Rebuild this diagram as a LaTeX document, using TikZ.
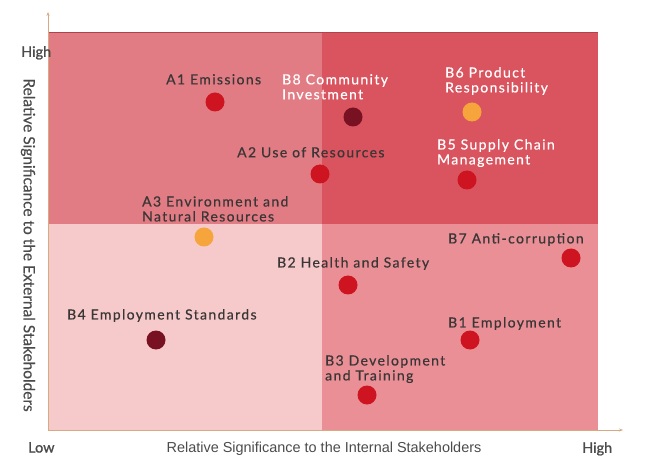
\documentclass[tikz,border=0pt]{standalone}
\usepackage{fontspec}
\setmainfont{Lato}
\newfontfamily\axisfont{Liberation Sans}
\usetikzlibrary{arrows.meta}
\newlength{\du}
\setlength{\du}{1bp}
\definecolor{quadlowlow}{RGB}{246,201,203}
\definecolor{quadlowhigh}{RGB}{226,124,132}
\definecolor{quadhighlow}{RGB}{234,143,150}
\definecolor{quadhighhigh}{RGB}{217,84,95}
\definecolor{dotred}{RGB}{205,20,32}
\definecolor{dotdark}{RGB}{120,18,34}
\definecolor{dotorange}{RGB}{246,165,60}
\definecolor{labelgray}{RGB}{58,54,54}
\definecolor{axisgray}{RGB}{75,75,75}
\definecolor{axisline}{RGB}{215,170,130}
\tikzset{
  dot/.style={circle, inner sep=0pt, minimum size=19\du},
  lbl/.style={anchor=north west, inner sep=0pt, align=left, text=labelgray,
    font=\fontsize{14}{15}\selectfont\addfontfeatures{LetterSpace=10,FakeBold=0.5}},
  whitelbl/.style={lbl, text=white},
  ends/.style={anchor=north west, inner sep=0pt, text=axisgray,
    font=\fontsize{14.5}{15}\selectfont\addfontfeatures{FakeBold=1.2}},
}

\begin{document}
\begin{tikzpicture}
\pgftransformxscale{1.000000}
\pgftransformyscale{-1.000000}
\useasboundingbox (0\du,0\du) rectangle (645\du,475\du);
% quadrants
\fill[quadlowhigh] (48\du,33\du) rectangle (322\du,224\du);
\fill[quadhighhigh] (322\du,33\du) rectangle (598\du,224\du);
\fill[quadlowlow] (48\du,224\du) rectangle (322\du,430\du);
\fill[quadhighlow] (322\du,224\du) rectangle (598\du,430\du);
\draw[line width=1\du, quadhighhigh!80!black] (48\du,33\du)--(598\du,33\du);
% axes
\coordinate (origin) at (48\du,430\du);
\coordinate (ytop) at (48\du,12\du);
\coordinate (xend) at (623\du,430\du);
\draw[axisline, line width=0.8\du, -{Stealth[length=4pt,width=3pt]}] (origin)--(ytop);
\draw[axisline, line width=0.8\du, -{Stealth[length=4pt,width=3pt]}] (origin)--(xend);
% axis texts
\node[ends] (yhigh) at (21\du,46\du){High};
\node[ends] (xlow) at (28\du,442\du){Low};
\node[ends] (xhigh) at (582\du,442\du){High};
\node[anchor=north, inner sep=0pt, text=axisgray, font=\axisfont\fontsize{14.5}{15}\selectfont] (xtitle) at (324\du,442\du){Relative Significance to the Internal Stakeholders};
\node[rotate=-90, inner sep=0pt, text=axisgray, font=\fontsize{15.5}{16}\selectfont\addfontfeatures{FakeBold=0.5}] (ytitle) at (28\du,245\du){Relative Significance to the External Stakeholders};
% topics
\node[dot, fill=dotred] (a1) at (215\du,102\du){};
\node[lbl] (a1text) at (166\du,74\du){A1 Emissions};
\node[dot, fill=dotdark] (b8) at (353\du,117\du){};
\node[whitelbl] (b8text) at (282\du,74\du){B8 Community\\Investment};
\node[dot, fill=dotorange] (b6) at (472\du,112\du){};
\node[whitelbl] (b6text) at (445\du,67\du){B6 Product\\Responsibility};
\node[dot, fill=dotred] (a2) at (320\du,174\du){};
\node[lbl] (a2text) at (237\du,147\du){A2 Use of Resources};
\node[dot, fill=dotred] (b5) at (467\du,180\du){};
\node[whitelbl] (b5text) at (437\du,139\du){B5 Supply Chain\\Management};
\node[dot, fill=dotorange] (a3) at (204\du,237\du){};
\node[lbl] (a3text) at (142\du,196\du){A3 Environment and\\Natural Resources};
\node[dot, fill=dotred] (b7) at (571\du,258\du){};
\node[lbl] (b7text) at (448\du,233\du){B7 Anti-corruption};
\node[dot, fill=dotred] (b2) at (348\du,285\du){};
\node[lbl] (b2text) at (277\du,257\du){B2 Health and Safety};
\node[dot, fill=dotdark] (b4) at (156\du,340\du){};
\node[lbl] (b4text) at (67\du,309\du){B4 Employment Standards};
\node[dot, fill=dotred] (b1) at (470\du,340\du){};
\node[lbl] (b1text) at (448\du,317\du){B1 Employment};
\node[dot, fill=dotred] (b3) at (367\du,395\du){};
\node[lbl] (b3text) at (325\du,355\du){B3 Development\\and Training};
\end{tikzpicture}
\end{document}
